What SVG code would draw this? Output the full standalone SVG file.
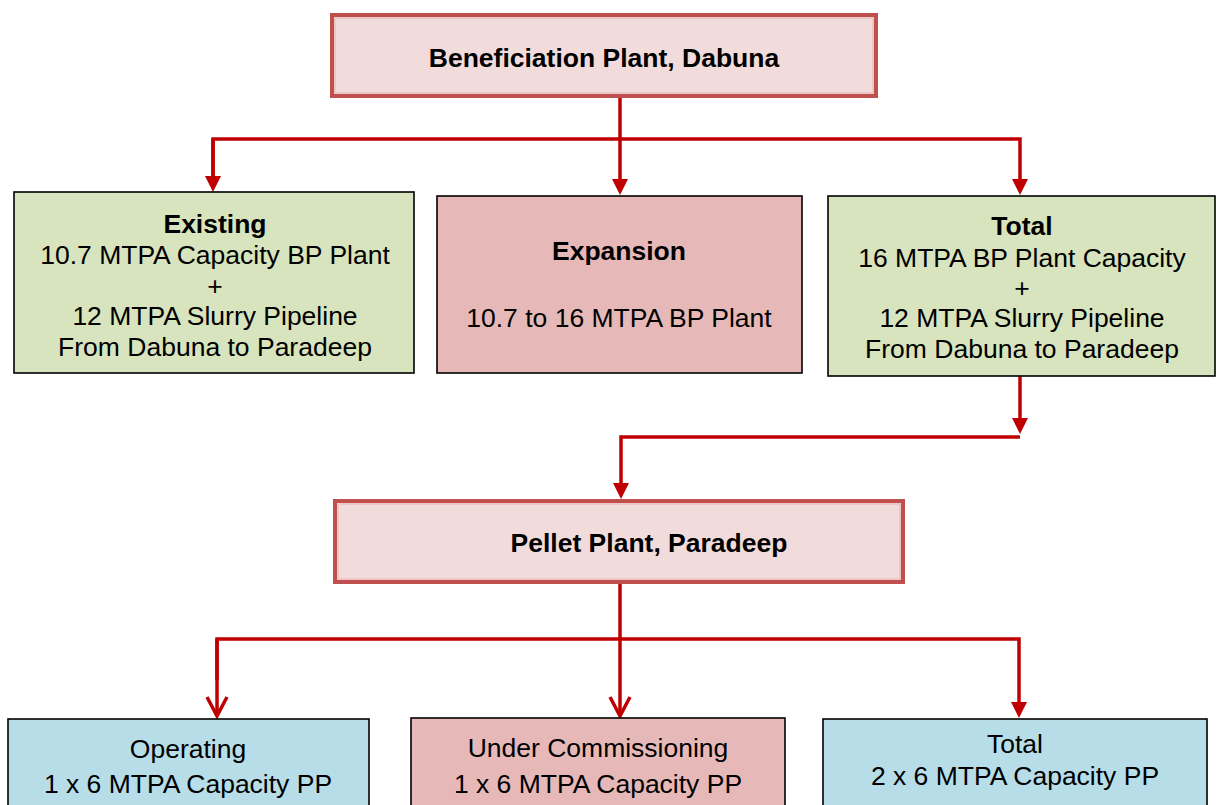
<svg xmlns="http://www.w3.org/2000/svg" width="1216" height="805" viewBox="0 0 1216 805">
<defs>
<style>
text{font-family:"Liberation Sans",Arial,sans-serif;font-size:26.5px;fill:#000;text-anchor:middle}
.b{font-weight:bold}
.hdr{fill:#F2DCDB;stroke:#C0504D;stroke-width:4}
.hdrin{fill:none;stroke:#E9B3B1;stroke-width:1}
.grn{fill:#D7E4BD;stroke:#000;stroke-width:1.6}
.pnk{fill:#E6B9B8;stroke:#000;stroke-width:1.6}
.blu{fill:#B7DEE8;stroke:#000;stroke-width:1.6}
.ln{fill:none;stroke:#C00000;stroke-width:3.5;stroke-linejoin:miter}
</style>
<marker id="ah" markerUnits="userSpaceOnUse" viewBox="0 0 16 16" markerWidth="16" markerHeight="16" refX="1" refY="8" orient="auto" overflow="visible">
<path d="M0,0 L16,8 L0,16 z" fill="#C00000"/>
</marker>
<marker id="ao" markerUnits="userSpaceOnUse" viewBox="0 0 20 22" markerWidth="20" markerHeight="22" refX="19" refY="11" orient="auto" overflow="visible">
<path d="M0,1 L19,11 L0,21" fill="none" stroke="#C00000" stroke-width="3.5"/>
</marker>
</defs>
<rect width="1216" height="805" fill="#fff"/>

<g id="connectors">
<path class="ln" d="M620,98 V180" marker-end="url(#ah)"/>
<path class="ln" d="M213,176 V139 H1020 V180" marker-end="url(#ah)"/>
<path class="ln" d="M213,139 V177" marker-end="url(#ah)"/>
<path class="ln" d="M1020,376 V419" marker-end="url(#ah)"/>
<path class="ln" d="M1020,437 H621 V484" marker-end="url(#ah)"/>
<path class="ln" d="M620,584 V716" marker-end="url(#ao)"/>
<path class="ln" d="M217,680 V639 H1019 V703" marker-end="url(#ah)"/>
<path class="ln" d="M217,639 V716" marker-end="url(#ao)"/>
</g>

<g id="beneficiation">
<rect class="hdr" x="332" y="15" width="544" height="81"/>
<rect class="hdrin" x="335" y="18" width="538" height="75"/>
<text class="b" x="604" y="67">Beneficiation Plant, Dabuna</text>
</g>

<g id="existing">
<rect class="grn" x="14" y="192" width="400" height="181"/>
<text class="b" x="215" y="233">Existing</text>
<text x="215" y="264">10.7 MTPA Capacity BP Plant</text>
<text x="215" y="295">+</text>
<text x="215" y="325">12 MTPA Slurry Pipeline</text>
<text x="215" y="356">From Dabuna to Paradeep</text>
</g>

<g id="expansion">
<rect class="pnk" x="437" y="196" width="365" height="177"/>
<text class="b" x="619" y="260">Expansion</text>
<text x="619" y="327">10.7 to 16 MTPA BP Plant</text>
</g>

<g id="total-bp">
<rect class="grn" x="828" y="196" width="387" height="180"/>
<text class="b" x="1022" y="235">Total</text>
<text x="1022" y="267">16 MTPA BP Plant Capacity</text>
<text x="1022" y="297">+</text>
<text x="1022" y="327">12 MTPA Slurry Pipeline</text>
<text x="1022" y="358">From Dabuna to Paradeep</text>
</g>

<g id="pellet">
<rect class="hdr" x="335" y="501" width="568" height="81"/>
<rect class="hdrin" x="338" y="504" width="562" height="75"/>
<text class="b" x="649" y="552">Pellet Plant, Paradeep</text>
</g>

<g id="operating">
<rect class="blu" x="8" y="719" width="361" height="100"/>
<text x="188" y="758">Operating</text>
<text x="188" y="793">1 x 6 MTPA Capacity PP</text>
</g>

<g id="under-commissioning">
<rect class="pnk" x="411" y="718" width="374" height="100"/>
<text x="598" y="757">Under Commissioning</text>
<text x="598" y="793">1 x 6 MTPA Capacity PP</text>
</g>

<g id="total-pp">
<rect class="blu" x="823" y="719" width="384" height="100"/>
<text x="1015" y="753">Total</text>
<text x="1015" y="785">2 x 6 MTPA Capacity PP</text>
</g>
</svg>
